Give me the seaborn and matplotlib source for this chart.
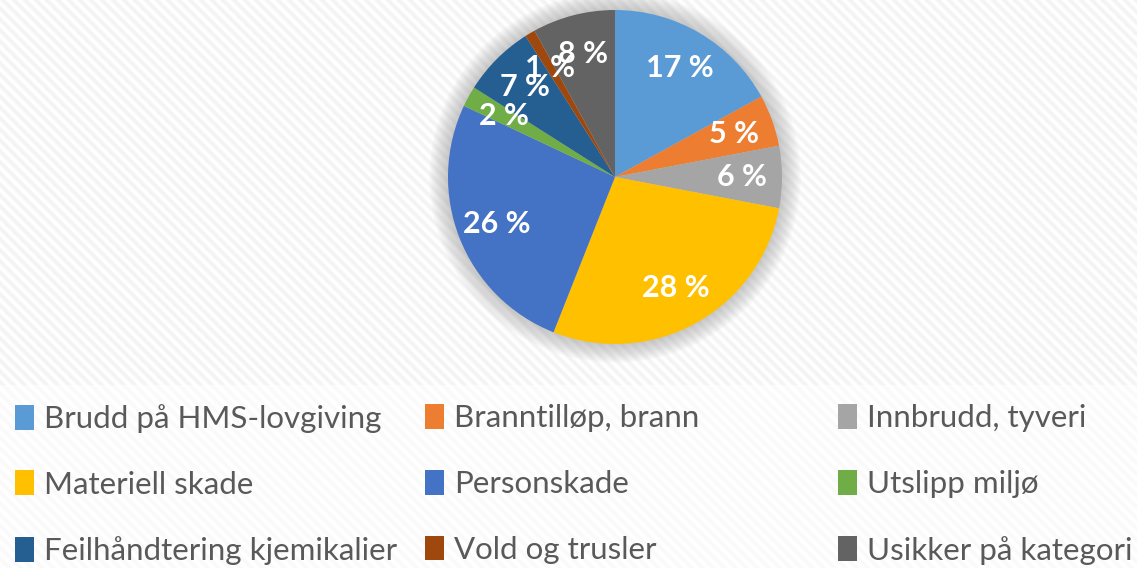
import numpy as np
import matplotlib
matplotlib.use("Agg")
import matplotlib.pyplot as plt
import matplotlib.patches as mpatches
import seaborn as sns

categories = ["Brudd på HMS-lovgiving", "Branntilløp, brann", "Innbrudd, tyveri",
              "Materiell skade", "Personskade", "Utslipp miljø",
              "Feilhåndtering kjemikalier", "Vold og trusler", "Usikker på kategori"]
values = [17, 5, 6, 28, 26, 2, 7, 1, 8]
colors = ["#5B9BD5", "#ED7D31", "#A5A5A5", "#FFC000", "#4472C4",
          "#70AD47", "#255E91", "#9E480E", "#636363"]

sns.set_style("white")
plt.rcParams['font.family'] = ['Lato', 'DejaVu Sans']
palette = sns.color_palette(colors)

W, H = 1137, 568
fig = plt.figure(figsize=(W / 100, H / 100), dpi=100)
fig.patch.set_facecolor("white")

# striped background
bg = fig.add_axes([0, 0, 1, 1])
yy, xx = np.mgrid[0:H, 0:W]
s = 0.5 + 0.5 * np.sin(2 * np.pi * (xx - yy) / 11.0)
img = 1.0 - 0.05 * s
img[385:, :] = 1.0 - 0.025 * s[385:, :]
bg.imshow(img, cmap="gray", vmin=0, vmax=1, aspect="auto", interpolation="bilinear")
bg.axis("off")

# pie axes
cx, cy, r = 615, 177, 167
m = 1.25
ax = fig.add_axes([(cx - m * r) / W, (H - cy - m * r) / H, 2 * m * r / W, 2 * m * r / H])
ax.set_xlim(-m, m)
ax.set_ylim(-m, m)
ax.set_aspect("equal")
ax.axis("off")

# soft glow behind pie
for i in range(14):
    rr = 1.0 + 0.008 * (i + 1)
    ax.add_patch(mpatches.Circle((0, 0), rr, color="#9a9a9a", alpha=0.045, lw=0, zorder=0))

wedges, texts, autotexts = ax.pie(
    values, colors=palette, startangle=90, counterclock=False, radius=1.0,
    autopct=lambda p: f"{p:.0f} %", pctdistance=0.76,
    wedgeprops=dict(linewidth=0),
    textprops=dict(color="white", fontsize=22, fontweight="bold"))
for w in wedges:
    w.set_zorder(2)
for t in autotexts:
    t.set_zorder(3)

# legend: three columns
handles = [mpatches.Patch(facecolor=c, edgecolor="none") for c in palette]
col_x = [15, 425, 838]
for j in range(3):
    idx = [j, j + 3, j + 6]
    leg = fig.legend([handles[i] for i in idx], [categories[i] for i in idx],
                     loc="upper left", bbox_to_anchor=(col_x[j] / W, (H - 404) / H),
                     frameon=False, fontsize=22.5, labelcolor="#595959",
                     handlelength=0.62, handleheight=0.85, handletextpad=0.3,
                     labelspacing=1.2, borderpad=0, borderaxespad=0)

fig.savefig("out.png", dpi=100)
